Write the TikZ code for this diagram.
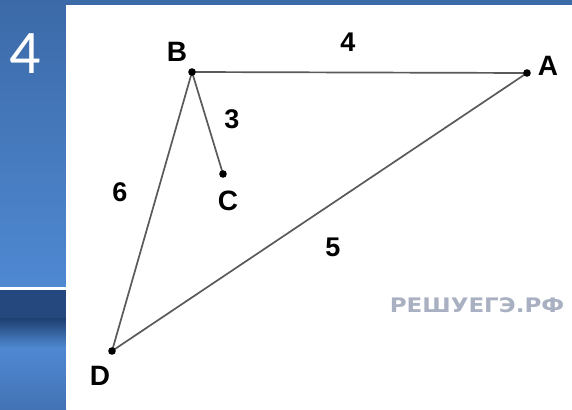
\documentclass[tikz,border=0pt]{standalone}
\usepackage{fontspec}
\setmainfont{Liberation Sans}
\newfontfamily\slidefont{Carlito}
\newfontfamily\markfont{DejaVu Sans}
\usetikzlibrary{positioning}

\definecolor{slideblue}{HTML}{3C6AA8}
\definecolor{slidelight}{HTML}{4F89D2}
\definecolor{slidedark}{HTML}{25497F}
\definecolor{slidedeep}{HTML}{1E3F70}
\definecolor{slidelow}{HTML}{4372B5}
\definecolor{edgegray}{HTML}{5A5A5A}
\definecolor{markgray}{HTML}{A9B0C2}

\tikzset{
  side/.style={line width=1.7pt,edgegray},
  vertex/.style={font=\bfseries\fontsize{28}{28}\selectfont},
  len/.style={font=\bfseries\fontsize{27}{27}\selectfont},
}

\begin{document}
\begin{tikzpicture}[x=1pt,y=-1pt]
      \useasboundingbox (0,0) rectangle (572,409);
      % slide background
      \fill[slideblue] (0,0) rectangle (572,409);
      \shade[top color=slideblue,bottom color=slidelight] (0,0) rectangle (66,288);
      \fill[white] (0,287) rectangle (66,289.5);
      \fill[slidedark] (0,289.5) rectangle (66,318);
      \shade[top color=slidedeep,bottom color=slidelight] (0,318) rectangle (66,348);
      \shade[top color=slidelight,bottom color=slidelow] (0,348) rectangle (66,409);
      \fill[white] (66,5) rectangle (572,409);
      \node[white,font=\slidefont\fontsize{62}{62}\selectfont] (num) at (25,54) {4};
      % points
      \coordinate (B) at (192,72);
      \coordinate (A) at (527,73);
      \coordinate (C) at (223,174);
      \coordinate (D) at (112,351);
      \draw[side] (B) -- (A);
      \draw[side] (B) -- (C);
      \draw[side] (B) -- (D) -- (A);
      \foreach \p in {A,B,C,D} \fill (\p) circle (3.8);
      \node[vertex] (labB) at (177,52) {B};
      \node[vertex] (labA) at (548,66) {A};
      \node[vertex] (labC) at (228,201) {C};
      \node[vertex] (labD) at (100,376) {D};
      % lengths
      \node[len] (ab) at (348,42) {4};
      \node[len] (bc) at (232,119) {3};
      \node[len] (bd) at (120,192) {6};
      \node[len] (ad) at (333,247) {5};
      \node[markgray,xscale=1.15,font=\markfont\bfseries\fontsize{20}{20}\selectfont] (mark) at (477,305) {РЕШУЕГЭ.РФ};
\end{tikzpicture}
\end{document}
